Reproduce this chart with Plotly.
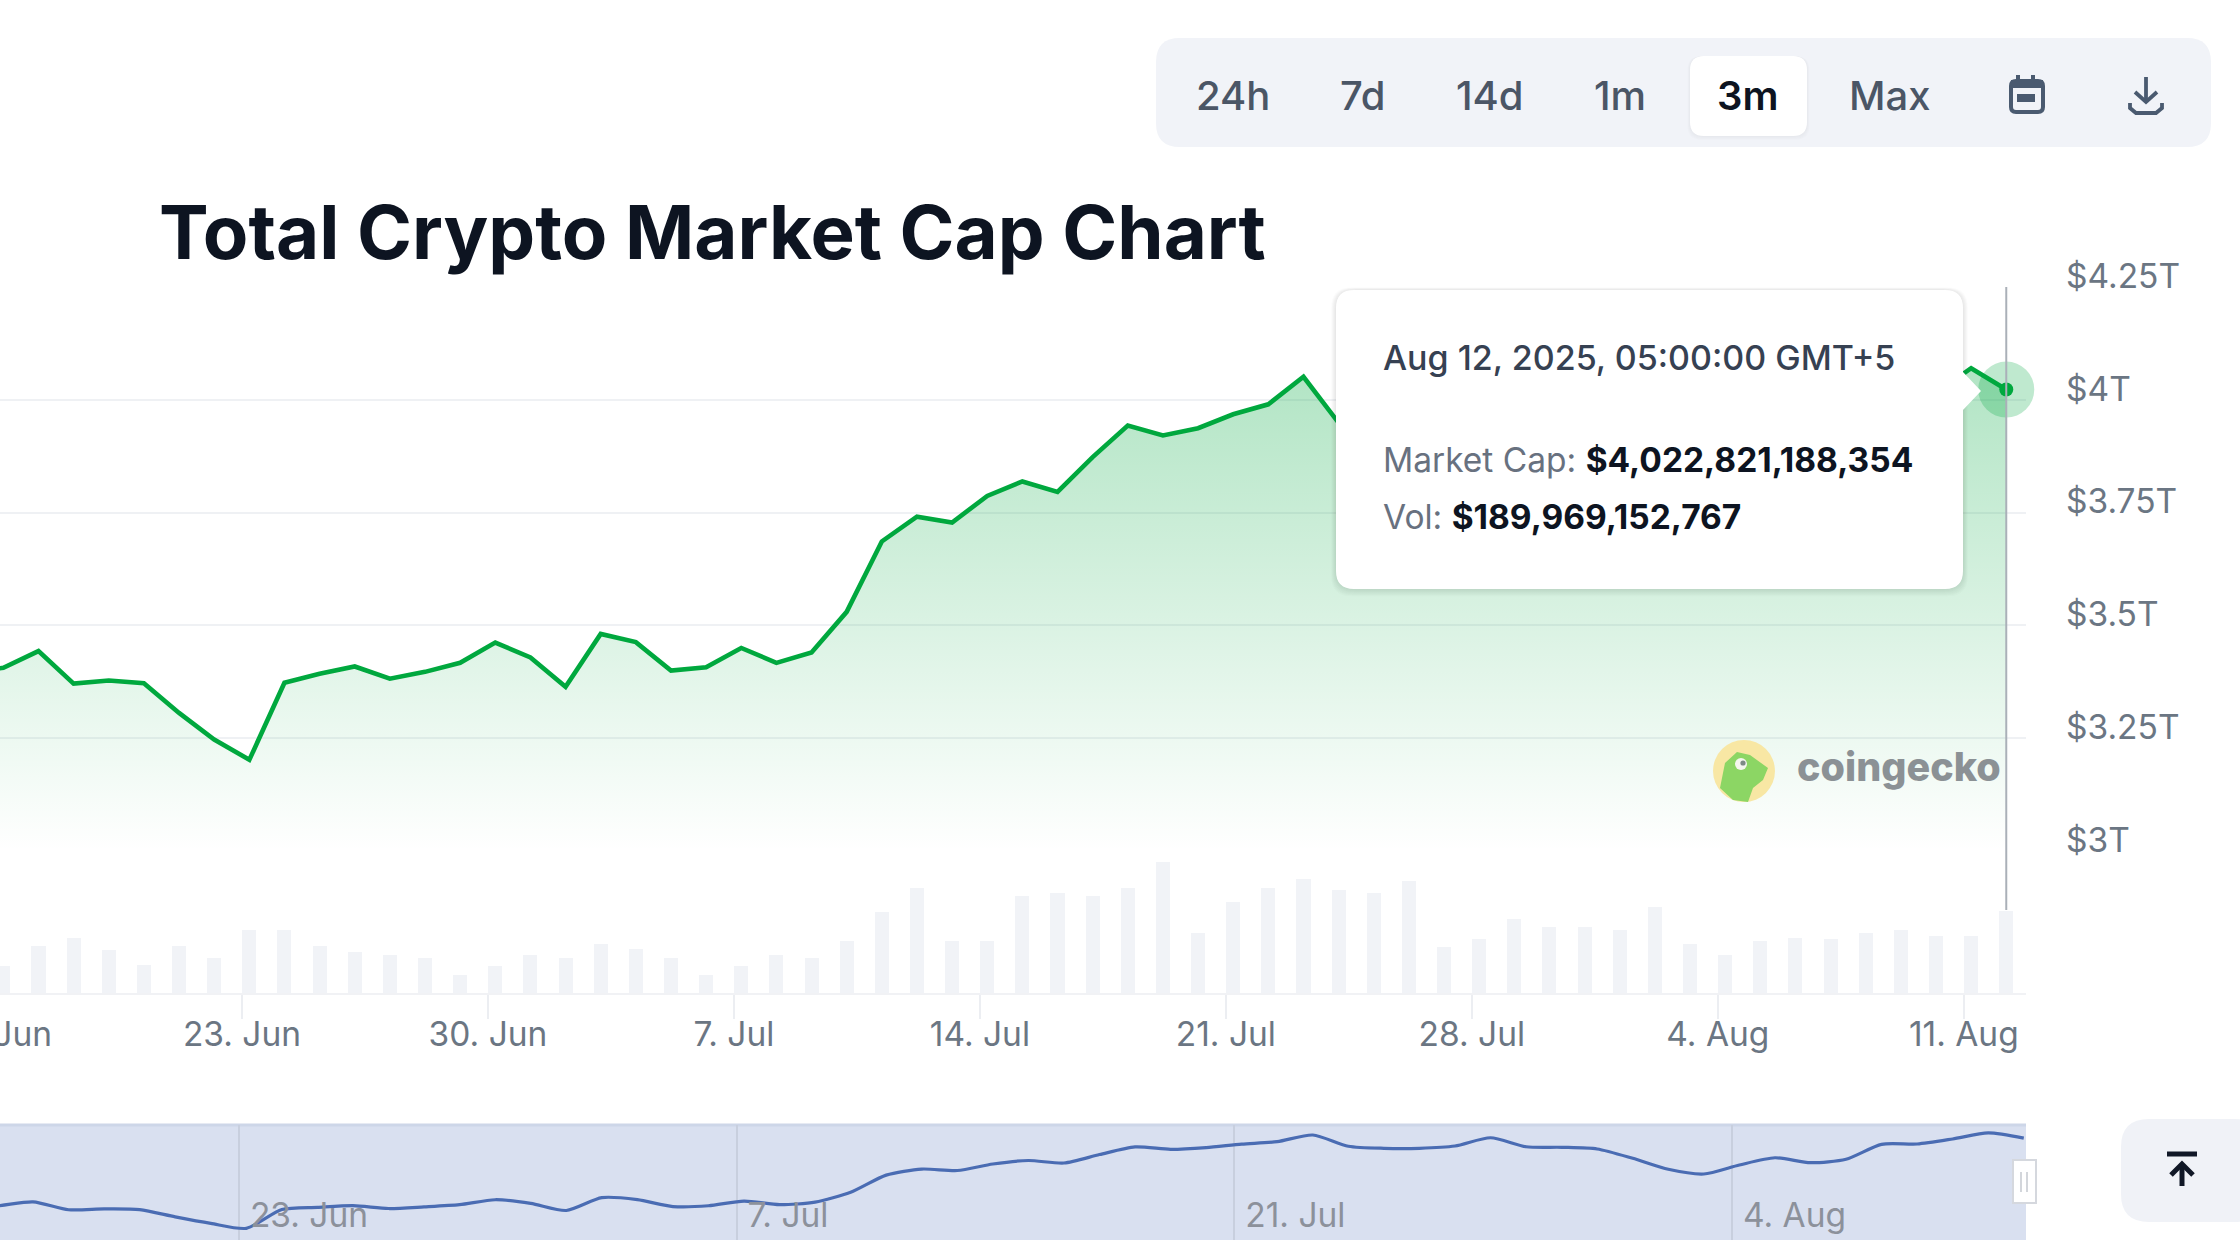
import pandas as pd
import plotly.graph_objects as go

# ---------- data ----------
dates = pd.date_range("2025-06-15 05:00", "2025-08-12 05:00", freq="D")
market_cap_t = [3.395, 3.406, 3.443, 3.371, 3.378, 3.372, 3.306, 3.247, 3.202, 3.373, 3.393, 3.409, 3.382, 3.397, 3.417, 3.462,
                3.429, 3.364, 3.481, 3.463, 3.400, 3.407, 3.450, 3.417, 3.440, 3.530,
                3.686, 3.741, 3.728, 3.787, 3.819, 3.796, 3.873, 3.943, 3.921, 3.937,
                3.968, 3.990, 4.051, 3.949, 3.930, 3.930, 3.951, 4.026, 3.944, 3.939, 3.924,
                3.839, 3.739, 3.696, 3.778, 3.844, 3.799, 3.830, 3.966, 3.969, 4.015, 4.070, 4.0228]
volume_b = [100, 62, 108, 127, 100, 66, 108, 81, 147, 147, 108, 95, 89, 81, 42, 62,
            87, 81, 114, 101, 81, 42, 62, 89, 81, 120,
            187, 243, 120, 120, 225, 232, 225, 243, 303, 140,
            212, 243, 264, 238, 232, 259, 107, 126, 172, 154, 154,
            147, 199, 114, 89, 120, 127, 126, 140, 147, 132, 132, 190]
y_tick_vals = [3, 3.25, 3.5, 3.75, 4, 4.25]
y_tick_text = ["$3T", "$3.25T", "$3.5T", "$3.75T", "$4T", "$4.25T"]
x_tick_vals = ["2025-06-23", "2025-06-30", "2025-07-07", "2025-07-14", "2025-07-21", "2025-07-28", "2025-08-04", "2025-08-11"]
x_tick_text = ["23. Jun", "30. Jun", "7. Jul", "14. Jul", "21. Jul", "28. Jul", "4. Aug", "11. Aug"]
nav_tick_vals = ["2025-06-23", "2025-07-07", "2025-07-21", "2025-08-04"]
nav_tick_text = ["23. Jun", "7. Jul", "21. Jul", "4. Aug"]
range_buttons = ["24h", "7d", "14d", "1m", "3m", "Max"]
title_text = "Total Crypto Market Cap Chart"

# ---------- style ----------
W, H = 2240, 1260
FONT = "Inter"
GREEN = "#00a83e"
GRID = "#eff1f4"
TICK_TXT = "#6b7683"
PX = lambda v: v / W
PY = lambda v: 1 - v / H


def rr(x0, y0, x1, y1, r, extra=None):
    """rounded-rectangle path in page pixels"""
    p = [("M", x0 + r, y0), ("L", x1 - r, y0), ("Q", x1, y0, x1, y0 + r)]
    if extra:
        p += [("L", *e) for e in extra]
    p += [("L", x1, y1 - r), ("Q", x1, y1, x1 - r, y1), ("L", x0 + r, y1), ("Q", x0, y1, x0, y1 - r),
          ("L", x0, y0 + r), ("Q", x0, y0, x0 + r, y0)]
    out = []
    for seg in p:
        c = seg[0]
        pts = seg[1:]
        coords = " ".join(f"{PX(pts[i]):.6f},{PY(pts[i + 1]):.6f}" for i in range(0, len(pts), 2))
        out.append(c + coords)
    return " ".join(out) + " Z"


def poly(points, close=False):
    s = "M" + " L".join(f"{PX(x):.6f},{PY(y):.6f}" for x, y in points)
    return s + (" Z" if close else "")


shapes = []


def add_path(path, fill=None, line=None, lw=0, layer="above"):
    shapes.append(dict(type="path", xref="paper", yref="paper", path=path, layer=layer,
                       fillcolor=fill if fill else "rgba(0,0,0,0)",
                       line=dict(color=line if line else "rgba(0,0,0,0)", width=lw)))


def add_circle(cx, cy, r, fill):
    shapes.append(dict(type="circle", xref="paper", yref="paper", x0=PX(cx - r), x1=PX(cx + r),
                       y0=PY(cy + r), y1=PY(cy - r), fillcolor=fill, line=dict(width=0), layer="above"))


fig = go.Figure()

# volume bars
fig.add_trace(go.Bar(x=dates, y=volume_b, xaxis="x", yaxis="y2", width=0.4 * 86400000,
                     marker=dict(color="#f1f3f7", line=dict(width=0)), showlegend=False))
# price area
fig.add_trace(go.Scatter(x=dates, y=market_cap_t, xaxis="x", yaxis="y", mode="lines",
                         line=dict(color=GREEN, width=4.6), fill="tozeroy", showlegend=False,
                         fillgradient=dict(type="vertical", start=3.0, stop=4.05,
                                           colorscale=[[0, "rgba(0,168,62,0.0)"], [1, "rgba(0,168,62,0.30)"]])))
# hover marker on the last point
fig.add_trace(go.Scatter(x=[dates[-1]], y=[market_cap_t[-1]], xaxis="x", yaxis="y", mode="markers", cliponaxis=False,
                         marker=dict(color="rgba(0,168,62,0.25)", size=56, line=dict(width=0)), showlegend=False))
fig.add_trace(go.Scatter(x=[dates[-1]], y=[market_cap_t[-1]], xaxis="x", yaxis="y", mode="markers", cliponaxis=False,
                         marker=dict(color=GREEN, size=14, line=dict(width=0)), showlegend=False))
# navigator series
fig.add_trace(go.Scatter(x=dates, y=market_cap_t, xaxis="x3", yaxis="y3", mode="lines",
                         line=dict(color="#4a6cb3", width=3.2, shape="spline", smoothing=0.7), showlegend=False))

# navigator background
shapes.append(dict(type="rect", xref="paper", yref="paper", x0=0, x1=PX(2026), y0=PY(1240), y1=PY(1124),
                   fillcolor="#d9e0f0", line=dict(width=0), layer="below"))
shapes.append(dict(type="line", xref="paper", yref="paper", x0=0, x1=PX(2026), y0=PY(1125), y1=PY(1125),
                   line=dict(color="#cdd6e8", width=3), layer="below"))

# crosshair
shapes.append(dict(type="line", xref="x", yref="paper", x0=dates[-1], x1=dates[-1], y0=PY(910), y1=PY(287),
                   line=dict(color="#aab0b8", width=2), layer="above"))

# toolbar
add_path(rr(1156, 38, 2211, 147, 24), fill="#f1f3f8")
for i in range(5, 0, -1):
    add_path(rr(1690 - i * 0.5, 56, 1807 + i * 0.5, 136 + i * 0.8, 14), fill="rgba(60,70,90,0.012)")
add_path(rr(1690, 56, 1807, 136, 14), fill="#ffffff")
# calendar icon
ICON = "#4a5a70"
add_path(rr(2011, 81, 2043, 112, 5), fill=None, line=ICON, lw=4)
add_path(poly([(2011, 80), (2043, 80), (2043, 88), (2011, 88)], True), fill=ICON)
add_path(poly([(2018, 75), (2018, 80)]), line=ICON, lw=4)
add_path(poly([(2033, 75), (2033, 80)]), line=ICON, lw=4)
add_path(poly([(2017, 94), (2035, 94), (2035, 102), (2017, 102)], True), fill=ICON)
# download icon
add_path(poly([(2146, 77), (2146, 101)]), line=ICON, lw=3.8)
add_path(poly([(2135, 92), (2146, 102), (2157, 92)]), line=ICON, lw=3.8)
add_path(poly([(2130, 103), (2130, 108), (2136, 113), (2156, 113), (2162, 108), (2162, 103)]), line=ICON, lw=3.8)

# tooltip
for i in range(8, 0, -1):
    add_path(rr(1336 - i * 0.6, 290 - i * 0.3, 1963 + i * 0.6, 589 + i * 0.9, 20), fill="rgba(40,50,70,0.014)")
add_path(rr(1336, 290, 1963, 589, 18, extra=[(1963, 372), (1981, 391), (1963, 410)]), fill="#ffffff")

# watermark logo
add_circle(1744, 771, 31, "#f8e7a4")
add_path(poly([(1720, 788), (1725, 763), (1737, 752), (1750, 755), (1768, 768), (1763, 780), (1753, 788),
               (1748, 802), (1733, 800)], True), fill="#8cd664")
add_circle(1741, 764, 6, "#f4f6ee")
add_circle(1743, 763, 2.6, "#7d8a86")

# navigator handle
add_path(poly([(2013, 1160), (2036, 1160), (2036, 1203), (2013, 1203)], True), fill="#ffffff", line="#d5d8de", lw=2)
add_path(poly([(2021, 1172), (2021, 1192)]), line="#c8ccd2", lw=1.6)
add_path(poly([(2027, 1172), (2027, 1192)]), line="#c8ccd2", lw=1.6)

# back-to-top button
add_path(rr(2121, 1119, 2262, 1222, 28), fill="#f0f2f7")
add_path(poly([(2167, 1154), (2197, 1154)]), line="#111827", lw=5)
add_path(poly([(2182, 1164), (2182, 1186)]), line="#111827", lw=5)
add_path(poly([(2171, 1175), (2182, 1164), (2193, 1175)]), line="#111827", lw=5)


def note(x, y, text, size, color, anchor="center", weight=400, family=FONT):
    return dict(xref="paper", yref="paper", x=PX(x), y=PY(y), text=text, showarrow=False, xanchor=anchor,
                yanchor="middle", font=dict(family=family, size=size, color=color, weight=weight), align="left")


button_x = [1233, 1363, 1490, 1620, 1747, 1890]
annotations = [note(157, 232, title_text, 74.4, "#0d1421", "left", 700)]
for lbl, bx in zip(range_buttons, button_x):
    sel = lbl == "3m"
    annotations.append(note(bx, 96, lbl, 40, "#0d1421" if sel else "#4b5666", "center", 600 if sel else 500))
annotations += [
    note(1381, 357, "Aug 12, 2025, 05:00:00 GMT+5", 34, "#364152", "left", 500),
    note(1381, 460, "<span style='color:#68717f'>Market Cap:</span> <b>$4,022,821,188,354</b>", 33.5, "#0d1421", "left"),
    note(1381, 517, "<span style='color:#68717f'>Vol:</span> <b>$189,969,152,767</b>", 33.5, "#0d1421", "left"),
    note(1795, 767, "coingecko", 39.5, "#8b9195", "left", 800),
    note(-4, 1034, "16. Jun", 33.5, TICK_TXT),
]

fig.update_layout(
    width=W, height=H, margin=dict(l=0, r=0, t=0, b=0, pad=0, autoexpand=False), autosize=False,
    paper_bgcolor="#ffffff", plot_bgcolor="rgba(0,0,0,0)", showlegend=False, bargap=0,
    font=dict(family=FONT),
    xaxis=dict(domain=[0, PX(2026)], anchor="y2", type="date",
               range=["2025-06-16 02:43", "2025-08-12 18:29"],
               tickmode="array", tickvals=x_tick_vals, ticktext=x_tick_text,
               ticks="outside", ticklen=24, tickwidth=1.5, tickcolor="#eceef2", ticklabelstandoff=-13,
               tickfont=dict(family=FONT, size=33.5, color=TICK_TXT),
               showgrid=False, showline=True, linecolor="#f1f2f5", linewidth=2, zeroline=False),
    yaxis=dict(domain=[PY(851), PY(287)], anchor="x", side="right", range=[3, 4.25],
               tickmode="array", tickvals=y_tick_vals, ticktext=y_tick_text,
               tickfont=dict(family=FONT, size=33.5, color=TICK_TXT), ticklabelstandoff=39, ticklabelshift=-11,
               showgrid=True, gridcolor=GRID, gridwidth=2, zeroline=False, showline=False, ticks=""),
    yaxis2=dict(domain=[PY(993), PY(851)], anchor="x", range=[0, 329], showgrid=False, zeroline=False,
                showticklabels=False, showline=False, ticks=""),
    xaxis3=dict(domain=[0, PX(2026)], anchor="y3", type="date",
                range=["2025-06-16 06:43", "2025-08-12 06:30"],
                tickmode="array", tickvals=nav_tick_vals, ticktext=nav_tick_text,
                ticklabelposition="inside right", ticks="", ticklabelshift=11,
                tickfont=dict(family=FONT, size=33.5, color="#8c919b"),
                showgrid=True, gridcolor="#c8cfde", gridwidth=1.5, zeroline=False, showline=False),
    yaxis3=dict(domain=[PY(1240), PY(1125)], anchor="x3", range=[3.0955, 4.142], showgrid=False,
                zeroline=False, showticklabels=False, showline=False, ticks=""),
    shapes=shapes, annotations=annotations, hovermode=False,
)

fig.write_html("out.html", config={"displayModeBar": False},
               post_script="document.body.style.margin='0';document.body.style.overflow='hidden';")
